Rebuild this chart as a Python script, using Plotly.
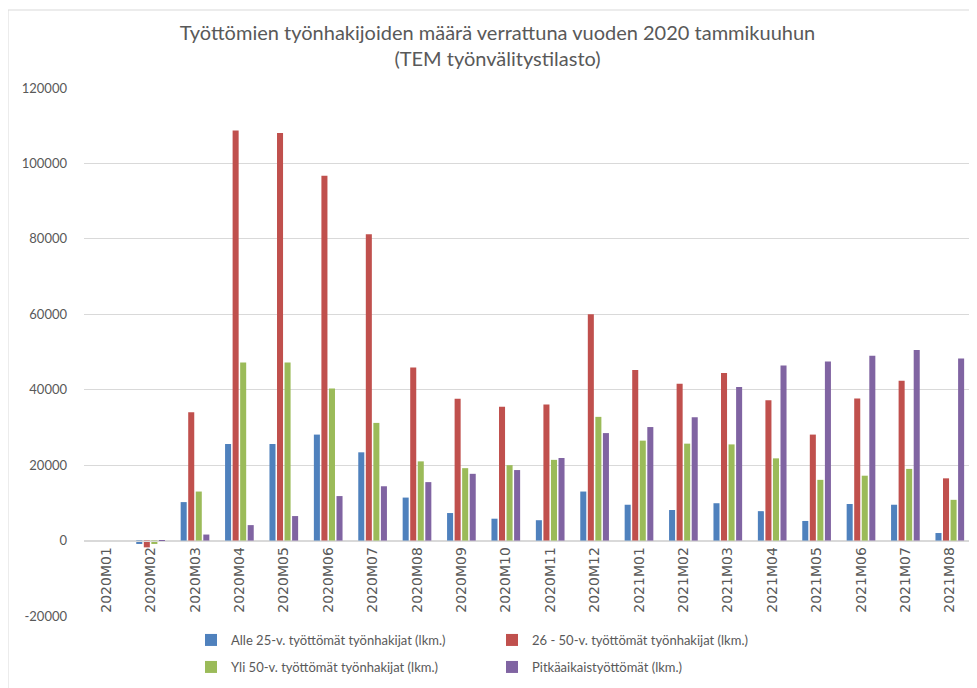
import plotly.graph_objects as go

categories = ["2020M01", "2020M02", "2020M03", "2020M04", "2020M05", "2020M06", "2020M07",
              "2020M08", "2020M09", "2020M10", "2020M11", "2020M12", "2021M01", "2021M02",
              "2021M03", "2021M04", "2021M05", "2021M06", "2021M07", "2021M08"]

alle25 = [0, -900, 10200, 25600, 25600, 28100, 23400, 11400, 7300, 5800, 5400, 13000,
          9500, 8100, 9900, 7800, 5200, 9700, 9500, 2000]
v26_50 = [0, -1800, 34000, 108700, 108100, 96700, 81200, 45900, 37600, 35500, 36100, 60000,
          45200, 41600, 44400, 37200, 28100, 37700, 42400, 16500]
yli50 = [0, -900, 13000, 47200, 47200, 40300, 31200, 21000, 19200, 20000, 21400, 32800,
         26500, 25700, 25500, 21800, 16100, 17200, 19000, 10800]
pitka = [0, -200, 1600, 4100, 6500, 11800, 14400, 15500, 17700, 18700, 21900, 28500,
         30100, 32700, 40700, 46400, 47500, 49000, 50500, 48300]

series_names = ["Alle 25-v. työttömät työnhakijat (lkm.)",
                "26 - 50-v. työttömät työnhakijat (lkm.)",
                "Yli 50-v. työttömät työnhakijat (lkm.)",
                "Pitkäaikaistyöttömät (lkm.)"]
colors = ["#4F81BD", "#C0504D", "#9BBB59", "#8064A2"]
legends = ["legend", "legend", "legend2", "legend2"]

y_ticks = [-20000, 0, 20000, 40000, 60000, 80000, 100000, 120000]

FONT = "Lato"
TXT = "#595959"

fig = go.Figure()
for name, vals, col, lg in zip(series_names, [alle25, v26_50, yli50, pitka], colors, legends):
    fig.add_trace(go.Bar(x=categories, y=vals, name=name, marker_color=col,
                         marker_line_width=0, legend=lg))

# page offset of the figure (body margin)
OFF = 8
W, H = 977 - OFF, 688 - OFF
# plot area in page pixels
PX0, PX1 = 84, 972
PY0, PY1 = 88, 616
PW, PH = PX1 - PX0, PY1 - PY0

def px(pix):
    return (pix - PX0) / PW

def py(pix):
    return (PY1 - pix) / PH

legend_common = dict(orientation="h", xanchor="left", yanchor="middle",
                     entrywidth=256, entrywidthmode="pixels", itemwidth=30,
                     font=dict(family=FONT, size=13, color=TXT), bgcolor="rgba(0,0,0,0)",
                     tracegroupgap=0)

fig.update_layout(
    width=W, height=H,
    margin=dict(l=PX0 - OFF, r=W - (PX1 - OFF), t=PY0 - OFF, b=H - (PY1 - OFF)),
    paper_bgcolor="white", plot_bgcolor="white",
    font=dict(family=FONT, color=TXT, size=12),
    title=dict(text="Työttömien työnhakijoiden määrä verrattuna vuoden 2020 tammikuuhun<br>(TEM työnvälitystilasto)",
               x=(497.5 - OFF) / W, xanchor="center", y=1 - 32 / H, yanchor="top",
               font=dict(family=FONT, size=20, color=TXT)),
    barmode="group", bargap=0.32, bargroupgap=0.2,
    xaxis=dict(type="category", anchor="free", position=20000 / 140000,
               showline=True, linecolor="#D9D9D9", linewidth=1,
               tickangle=-90, ticks="", showgrid=False, ticklabelstandoff=0,
               tickfont=dict(family="DejaVu Sans", size=14, color=TXT)),
    yaxis=dict(range=[-20000, 120000], tickvals=y_ticks, ticktext=[str(v) for v in y_ticks],
               showgrid=True, gridcolor="#D9D9D9", gridwidth=1, zeroline=False,
               ticks="", ticklabelstandoff=16,
               tickfont=dict(family=FONT, size=13, color=TXT)),
    legend=dict(x=px(191), y=py(640), **legend_common),
    legend2=dict(x=px(191), y=py(667), **legend_common),
    shapes=[dict(type="rect", xref="paper", yref="paper",
                 x0=px(8), x1=px(995), y0=py(700), y1=py(10),
                 line=dict(color="#D9D9D9", width=1), fillcolor="rgba(0,0,0,0)", layer="below")],
)

fig.write_html("out.html")
